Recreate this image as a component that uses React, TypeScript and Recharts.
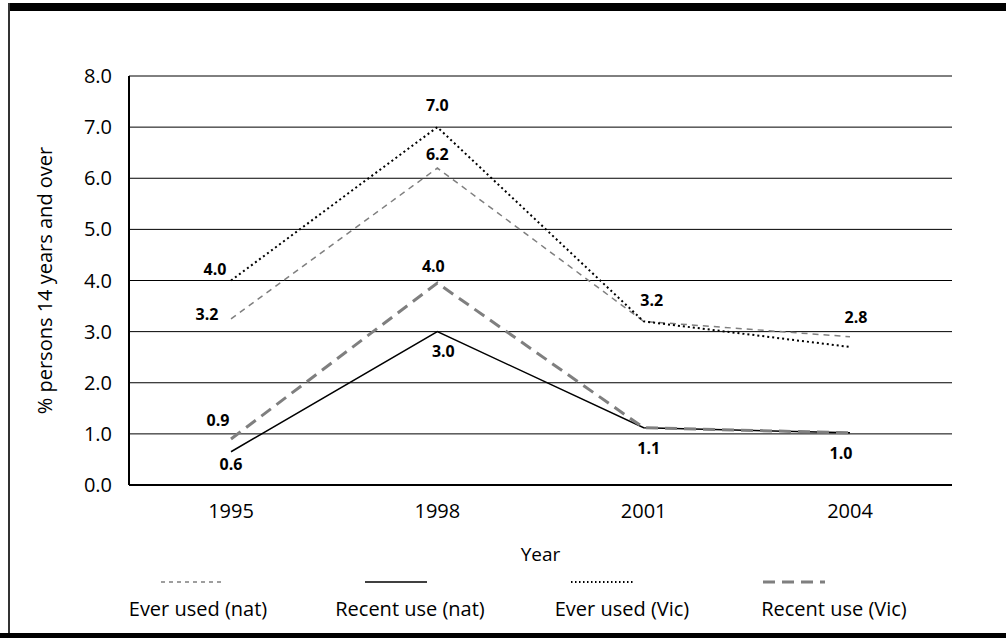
import React from "react"
import { CartesianGrid, Label, LabelList, Line, LineChart, XAxis, YAxis } from "recharts"

// values
const years = ["1995", "1998", "2001", "2004"]
const everUsedNat = [3.25, 6.2, 3.2, 2.9]
const recentUseNat = [0.65, 3.0, 1.12, 1.02]
const everUsedVic = [4.0, 7.0, 3.2, 2.7]
const recentUseVic = [0.9, 3.95, 1.12, 1.02]
const yTicks = [0, 1, 2, 3, 4, 5, 6, 7, 8]

// data labels as printed (null = not shown)
const everUsedNatLabels = ["3.2", "6.2", "3.2", "2.8"]
const recentUseNatLabels = ["0.6", "3.0", "1.1", "1.0"]
const everUsedVicLabels = ["4.0", "7.0", null, null]
const recentUseVicLabels = ["0.9", "4.0", null, null]

const data = years.map((year, i) => ({
  year,
  everNat: everUsedNat[i],
  recentNat: recentUseNat[i],
  everVic: everUsedVic[i],
  recentVic: recentUseVic[i],
}))

const FONT = "'Open Sans', sans-serif"
const GREY = "#7f7f7f"

// where each label sits relative to its point (dx, dy of text centre)
const series = [
  {
    key: "everNat", name: "Ever used (nat)", stroke: GREY, width: 1.5, dash: "6 5", legendDash: "4 4", shift: -6,
    labels: everUsedNatLabels, offsets: [[-24, -5], [0, -14], [8, -21], [6, -20]],
  },
  {
    key: "recentNat", name: "Recent use (nat)", stroke: "#000", width: 1.5, dash: undefined, legendDash: undefined, shift: -14,
    labels: recentUseNatLabels, offsets: [[0, 12], [6, 19], [5, 20], [-9, 20]],
  },
  {
    key: "everVic", name: "Ever used (Vic)", stroke: "#000", width: 2, dash: "2 3", legendDash: "1.5 2.5", shift: -20,
    labels: everUsedVicLabels, offsets: [[-16, -12], [0, -22], [0, 0], [0, 0]],
  },
  {
    key: "recentVic", name: "Recent use (Vic)", stroke: GREY, width: 3, dash: "12 7", legendDash: "12 7", shift: -40,
    labels: recentUseVicLabels, offsets: [[-13, -19], [-4, -17], [0, 0], [0, 0]],
  },
]

const makeLabel = (texts, offsets) => (props) => {
  const { x, y, index } = props
  const t = texts[index]
  if (t == null) return null
  const [dx, dy] = offsets[index]
  return (
    <text
      x={x + dx}
      y={y + dy}
      textAnchor="middle"
      dominantBaseline="central"
      fontFamily={FONT}
      fontSize={16}
      fontWeight={700}
      fill="#000"
    >
      {t}
    </text>
  )
}

const YLabel = (props) => {
  const { viewBox } = props
  const cx = 44
  const cy = viewBox.y + viewBox.height / 2
  return (
    <text
      x={cx}
      y={cy}
      transform={`rotate(-90 ${cx} ${cy})`}
      textAnchor="middle"
      dominantBaseline="central"
      fontFamily={FONT}
      fontSize={20}
      fill="#000"
    >
      % persons 14 years and over
    </text>
  )
}

const LegendRow = () => (
  <div
    style={{
      position: "absolute",
      left: 92,
      top: 572,
      width: 850,
      display: "flex",
      fontFamily: FONT,
      fontSize: 20,
      color: "#000",
    }}
  >
    {series.map((s) => (
      <div key={s.key} style={{ width: 212, display: "flex", flexDirection: "column", alignItems: "center" }}>
        <svg width={62} height={20} style={{ marginLeft: s.shift * 2 }}>
          <line x1={0} y1={10} x2={62} y2={10} stroke={s.stroke} strokeWidth={s.width} strokeDasharray={s.legendDash} />
        </svg>
        <div style={{ marginTop: 4, lineHeight: "26px" }}>{s.name}</div>
      </div>
    ))}
  </div>
)

export default function App() {
  return (
    <div style={{ position: "absolute", left: 0, top: 0, width: 1006, height: 638, background: "#fff", overflow: "hidden" }}>
      <div style={{ position: "absolute", left: 8, top: 3, right: 0, height: 8, background: "#000" }} />
      <div style={{ position: "absolute", left: 8, top: 3, bottom: 0, width: 2, background: "#333" }} />
      <div style={{ position: "absolute", left: 0, bottom: 0, right: 0, height: 5, background: "#000" }} />
      <div style={{ position: "absolute", left: 0, top: 0 }}>
        <LineChart width={1006} height={638} data={data} margin={{ top: 76, right: 54, bottom: 77, left: 0 }}>
          <CartesianGrid vertical={false} stroke="#000" strokeWidth={1} />
          <XAxis
            dataKey="year"
            height={76}
            padding={{ left: 102, right: 102 }}
            axisLine={{ stroke: "#000", strokeWidth: 2 }}
            tickLine={false}
            tickSize={0}
            tickMargin={19}
            tick={{ fill: "#000", fontFamily: FONT, fontSize: 20 }}
          >
            <Label value="Year" position="insideBottom" offset={0} fill="#000" fontFamily={FONT} fontSize={19} />
          </XAxis>
          <XAxis xAxisId="top" dataKey="year" orientation="top" height={0} tick={false} tickLine={false} axisLine={{ stroke: "#000", strokeWidth: 2 }} />
          <YAxis
            width={129}
            domain={[0, 8]}
            ticks={yTicks}
            axisLine={{ stroke: "#000", strokeWidth: 2 }}
            tickLine={false}
            tickSize={0}
            tickMargin={17}
            tickFormatter={(v) => v.toFixed(1)}
            tick={{ fill: "#000", fontFamily: FONT, fontSize: 20 }}
          >
            <Label content={<YLabel />} />
          </YAxis>
          <YAxis yAxisId="right" orientation="right" width={0} domain={[0, 8]} tick={false} tickLine={false} axisLine={{ stroke: "#000", strokeWidth: 2 }} />
          {series.map((s) => (
            <Line
              key={s.key}
              dataKey={s.key}
              name={s.name}
              type="linear"
              stroke={s.stroke}
              strokeWidth={s.width}
              strokeDasharray={s.dash}
              dot={false}
              activeDot={false}
              isAnimationActive={false}
            >
              <LabelList dataKey={s.key} content={makeLabel(s.labels, s.offsets)} />
            </Line>
          ))}
        </LineChart>
      </div>
      <LegendRow />
    </div>
  )
}
